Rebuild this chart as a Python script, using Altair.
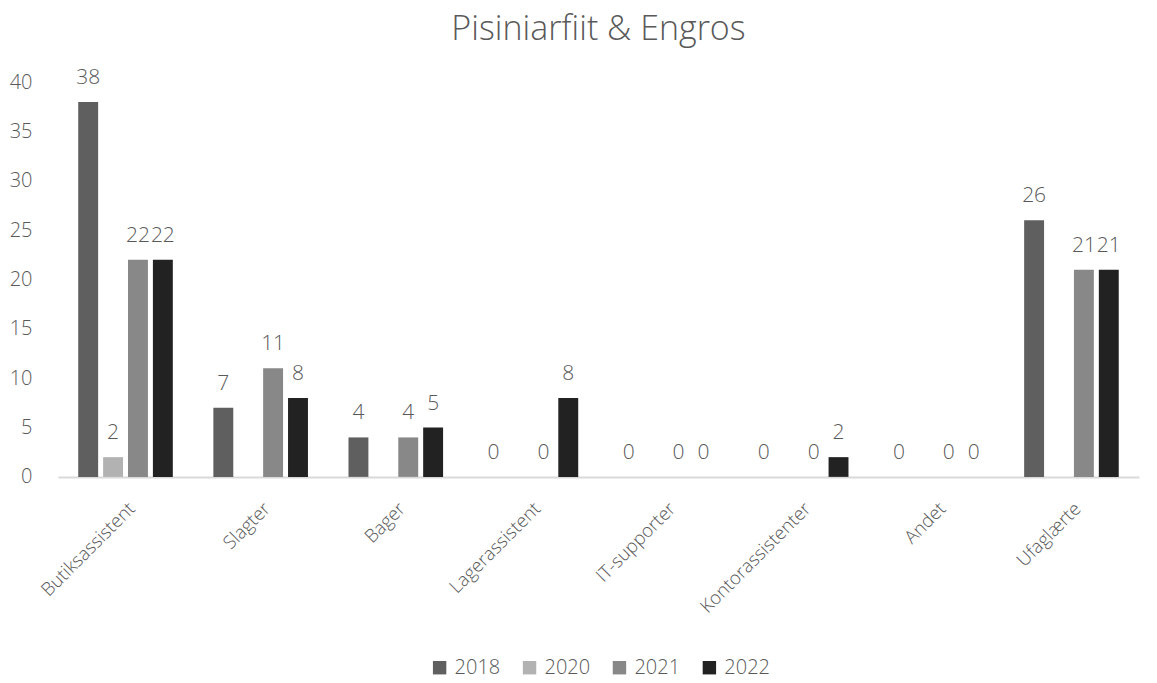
import altair as alt
import pandas as pd

categories = ["Butiksassistent", "Slagter", "Bager", "Lagerassistent",
              "IT-supporter", "Kontorassistenter", "Andet", "Ufaglærte"]
years = ["2018", "2020", "2021", "2022"]
v2018 = [38, 7, 4, 0, 0, 0, 0, 26]
v2020 = [2, None, None, None, None, None, None, None]
v2021 = [22, 11, 4, 0, 0, 0, 0, 21]
v2022 = [22, 8, 5, 8, 0, 2, 0, 21]
colors = ["#5f5f5f", "#b2b2b2", "#888888", "#222222"]

rows = []
for series, yr in zip([v2018, v2020, v2021, v2022], years):
    for c, v in zip(categories, series):
        if v is not None:
            rows.append({"cat": c, "year": yr, "value": v})
df = pd.DataFrame(rows)

FONT = "Open Sans"
TXT = "#595959"

x = alt.X("cat:N", sort=categories, title=None,
          scale=alt.Scale(paddingInner=0.3, paddingOuter=0.15),
          axis=alt.Axis(labelAngle=-45, labelFontSize=18.5, labelColor=TXT,
                        labelFont=FONT, labelFontWeight=300, ticks=False, domainColor="#d9d9d9",
                        domainWidth=2, labelPadding=22))
xo = alt.XOffset("year:N", sort=years, scale=alt.Scale(domain=years, paddingInner=0.2))
y = alt.Y("value:Q", title=None, scale=alt.Scale(domain=[0, 40]),
          axis=alt.Axis(values=[0, 5, 10, 15, 20, 25, 30, 35, 40], grid=False, domain=False,
                        ticks=False, labelFontSize=20, labelColor=TXT, labelFont=FONT,
                        labelFontWeight=300, labelPadding=26))
color = alt.Color("year:N", sort=years,
                  scale=alt.Scale(domain=years, range=colors),
                  legend=alt.Legend(title=None, orient="none", direction="horizontal",
                                    legendX=372, legendY=576, symbolType="square",
                                    symbolSize=180, symbolStrokeWidth=0, labelFontSize=20,
                                    labelColor=TXT, labelFont=FONT, labelFontWeight=300,
                                    columnPadding=19, labelOffset=5))

base = alt.Chart(df)
bars = base.mark_bar(strokeWidth=0).encode(x=x, xOffset=xo, y=y, color=color)
labels = base.mark_text(baseline="alphabetic", dy=-18, fontSize=21, color=TXT, font=FONT,
                        fontWeight=300).encode(
    x=x, xOffset=xo, y=y, text=alt.Text("value:Q"))

chart = alt.layer(bars, labels).properties(
    width=1082, height=395,
    title=alt.Title("Pisiniarfiit & Engros", fontSize=34, font=FONT, fontWeight=300,
                    color=TXT, anchor="middle", offset=20),
    autosize=alt.AutoSizeParams(type="none"),
    padding={"left": 50, "top": 74, "right": 10, "bottom": 205},
).configure_view(stroke=None)

chart.save("out.html", embed_options={"renderer": "svg", "actions": False})
